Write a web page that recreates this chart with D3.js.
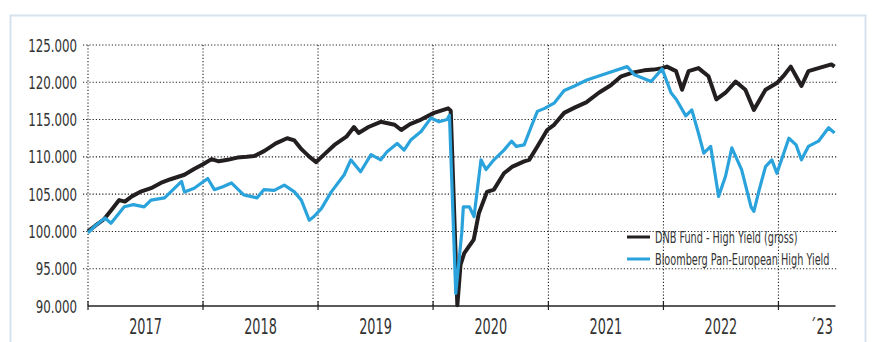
<!DOCTYPE html>
<html>
<head>
<meta charset="utf-8">
<script src="https://cdn.jsdelivr.net/npm/d3@7"></script>
<style>
	body { margin: 0; background: #fff; }
	svg text { font-family: "Liberation Sans Narrow", "DejaVu Sans Condensed", sans-serif; fill: #333; }
	.grid line { stroke: #222; stroke-width: 1.1; stroke-dasharray: 1.2,2; }
</style>
</head>
<body>
<svg id="vis" width="872" height="342"></svg>
<script>
// DNB Fund - High Yield (gross)
const dnbDates = ["2017-01-01","2017-01-25","2017-02-20","2017-03-15","2017-04-10","2017-04-28","2017-05-20","2017-06-15","2017-07-20","2017-08-20","2017-09-20","2017-11-03","2017-12-05",
	"2018-01-01","2018-01-28","2018-02-20","2018-03-20","2018-04-20","2018-05-20","2018-06-12","2018-07-15","2018-08-20","2018-09-25","2018-10-18","2018-11-10","2018-12-05","2018-12-26",
	"2019-01-25","2019-02-22","2019-04-01","2019-04-25","2019-05-10","2019-06-10","2019-07-19","2019-09-01","2019-09-22","2019-10-20","2019-11-24",
	"2020-01-04","2020-02-18","2020-02-26","2020-03-18","2020-03-28","2020-04-09","2020-05-09","2020-05-25","2020-06-20","2020-07-12","2020-08-13","2020-09-09","2020-10-16","2020-11-01","2020-11-27","2020-12-28",
	"2021-01-19","2021-02-20","2021-03-25","2021-05-01","2021-06-10","2021-07-18","2021-08-20","2021-09-25","2021-11-01","2021-12-01","2021-12-28",
	"2022-01-12","2022-02-10","2022-03-01","2022-03-22","2022-04-22","2022-05-24","2022-06-18","2022-07-17","2022-08-18","2022-09-18","2022-10-15","2022-11-21","2022-12-27",
	"2023-01-20","2023-02-09","2023-03-15","2023-04-06","2023-05-08","2023-06-18","2023-06-28"];
const dnbValues = [100.0,100.8,101.6,102.8,104.2,104.0,104.7,105.3,105.8,106.5,107.0,107.6,108.4,
	109.0,109.7,109.4,109.6,109.9,110.0,110.1,110.8,111.8,112.5,112.2,111.0,110.0,109.3,
	110.5,111.6,112.7,114.0,113.2,114.0,114.7,114.3,113.6,114.4,115.0,
	115.9,116.5,116.2,90.1,95.5,97.1,98.9,102.4,105.3,105.6,107.8,108.7,109.4,109.6,111.4,113.6,
	114.3,115.9,116.6,117.3,118.6,119.6,120.8,121.3,121.6,121.7,121.9,
	122.1,121.5,119.0,121.5,121.9,120.8,117.7,118.6,120.1,119.0,116.3,119.0,119.9,
	121.0,122.1,119.5,121.5,121.9,122.4,122.1];

// Bloomberg Pan-European High Yield
const bbgDates = ["2017-01-01","2017-01-25","2017-02-24","2017-03-15","2017-04-26","2017-05-25","2017-06-28","2017-07-20","2017-09-01","2017-10-25","2017-11-03","2017-12-04",
	"2018-01-16","2018-02-06","2018-03-05","2018-04-01","2018-05-10","2018-06-21","2018-07-13","2018-08-15","2018-09-16","2018-10-18","2018-11-09","2018-12-04","2018-12-19",
	"2019-01-12","2019-02-12","2019-03-25","2019-04-15","2019-05-16","2019-06-18","2019-07-19","2019-08-08","2019-09-09","2019-10-01","2019-10-23","2019-11-24","2019-12-25",
	"2020-01-20","2020-02-15","2020-02-22","2020-03-13","2020-04-01","2020-04-06","2020-04-25","2020-05-10","2020-06-01","2020-06-17","2020-07-12","2020-08-13","2020-09-06","2020-09-21","2020-10-16","2020-11-08","2020-11-27","2020-12-20",
	"2021-01-19","2021-02-20","2021-03-25","2021-05-03","2021-07-06","2021-09-08","2021-10-01","2021-11-23","2021-12-28",
	"2022-01-25","2022-02-11","2022-03-13","2022-04-01","2022-04-22","2022-05-09","2022-05-31","2022-06-25","2022-07-17","2022-08-06","2022-09-06","2022-10-06","2022-10-15","2022-11-01","2022-11-21","2022-12-11","2022-12-27",
	"2023-02-03","2023-02-26","2023-03-15","2023-04-06","2023-05-08","2023-06-09","2023-06-28"];
const bbgValues = [99.8,100.8,101.8,101.1,103.3,103.6,103.3,104.2,104.5,106.7,105.3,105.8,
	107.1,105.6,106.0,106.5,104.9,104.5,105.6,105.5,106.2,105.3,104.2,101.5,102.0,
	103.1,105.3,107.6,109.6,108.0,110.3,109.6,110.7,111.8,110.9,112.3,113.4,115.2,
	114.7,115.0,115.6,91.7,99.8,103.3,103.3,102.0,109.6,108.3,109.6,110.9,112.1,111.4,111.6,114.1,116.1,116.5,
	117.2,118.9,119.5,120.3,121.2,122.1,121.0,120.1,121.8,
	118.6,117.7,115.5,116.3,113.2,110.5,111.4,104.7,107.4,111.2,108.3,103.3,102.7,105.6,108.7,109.6,107.8,
	112.5,111.6,109.6,111.4,112.1,113.9,113.2];

const yTicks = [90, 95, 100, 105, 110, 115, 120, 125];
const yearStarts = ["2017","2018","2019","2020","2021","2022","2023"];
const yearLabels = ["2017","2018","2019","2020","2021","2022","´23"];
const seriesNames = ["DNB Fund - High Yield (gross)", "Bloomberg Pan-European High Yield"];
const seriesColors = ["#231f20", "#2aa3dc"];

const parse = d3.timeParse("%Y-%m-%d");
const fmtTick = d => d3.format(".3f")(d).replace(",", "");

const svg = d3.select("svg#vis");

const x = d3.scaleTime()
	.domain([parse("2017-01-01"), parse("2023-07-01")])
	.range([88, 835.5]);

const y = d3.scaleLinear()
	.domain([90, 125])
	.range([306, 45]);

// outer frame
svg.append("rect")
	.attr("x", 10.5).attr("y", 15.5)
	.attr("width", 855).attr("height", 340)
	.attr("fill", "none")
	.attr("stroke", "#d6e3ee")
	.attr("stroke-width", 2);

const grid = svg.append("g").attr("class", "grid");

// horizontal dotted grid
grid.selectAll("line.h")
	.data(yTicks.filter(d => d > 90))
	.enter().append("line")
	.attr("class", "h")
	.attr("x1", 83).attr("x2", 837)
	.attr("y1", d => y(d)).attr("y2", d => y(d));

// vertical dotted grid at each year start
const yearDates = yearStarts.map(s => parse(s + "-01-01"));
grid.selectAll("line.v")
	.data(yearDates)
	.enter().append("line")
	.attr("class", "v")
	.attr("x1", d => x(d)).attr("x2", d => x(d))
	.attr("y1", y(125)).attr("y2", y(90));

// x axis line and ticks
svg.append("line")
	.attr("x1", x.range()[0]).attr("x2", x.range()[1])
	.attr("y1", y(90)).attr("y2", y(90))
	.attr("stroke", "#222").attr("stroke-width", 1.5);

svg.selectAll("line.xtick")
	.data(yearDates)
	.enter().append("line")
	.attr("class", "xtick")
	.attr("x1", d => x(d)).attr("x2", d => x(d))
	.attr("y1", y(90) - 5).attr("y2", y(90) + 4)
	.attr("stroke", "#222").attr("stroke-width", 1.2);

// y labels
svg.selectAll("text.ylab")
	.data(yTicks)
	.enter().append("text")
	.attr("class", "ylab")
	.attr("text-anchor", "end")
	.attr("font-size", 18)
	.attr("transform", d => translate(77, y(d) + 6.5) + " scale(0.73,1)")
	.text(fmtTick);

// year labels, centered in each year
const labelX = yearLabels.map((s, i) => {
	const a = x(yearDates[i]);
	const b = i < yearDates.length - 1 ? x(yearDates[i + 1]) : x.range()[1];
	return i < yearDates.length - 1 ? (a + b) / 2 : b - 14;
});
svg.selectAll("text.xlab")
	.data(yearLabels)
	.enter().append("text")
	.attr("class", "xlab")
	.attr("text-anchor", "middle")
	.attr("font-size", 22)
	.attr("transform", (d, i) => translate(labelX[i], 334) + " scale(0.65,1)")
	.text(d => d);

// lines
const line = d3.line()
	.x(d => x(d.date))
	.y(d => y(d.value));

const series = [
	dnbDates.map((d, i) => ({date: parse(d), value: dnbValues[i]})),
	bbgDates.map((d, i) => ({date: parse(d), value: bbgValues[i]}))
];

svg.selectAll("path.series")
	.data(series)
	.enter().append("path")
	.attr("class", "series")
	.attr("d", line)
	.attr("fill", "none")
	.attr("stroke", (d, i) => seriesColors[i])
	.attr("stroke-width", (d, i) => i === 0 ? 4 : 3.2)
	.attr("stroke-linejoin", "round");

// legend
const legend = svg.append("g").attr("transform", translate(627, 237));
seriesNames.forEach((name, i) => {
	legend.append("line")
		.attr("x1", 0).attr("x2", 23)
		.attr("y1", i * 22).attr("y2", i * 22)
		.attr("stroke", seriesColors[i])
		.attr("stroke-width", 3);
	legend.append("text")
		.attr("font-size", 15)
		.attr("transform", translate(28, i * 22 + 5.5) + " scale(0.72,1)")
		.text(name);
});

function translate(x, y) {
	return "translate(" + x + "," + y + ")";
}
</script>
</body>
</html>
